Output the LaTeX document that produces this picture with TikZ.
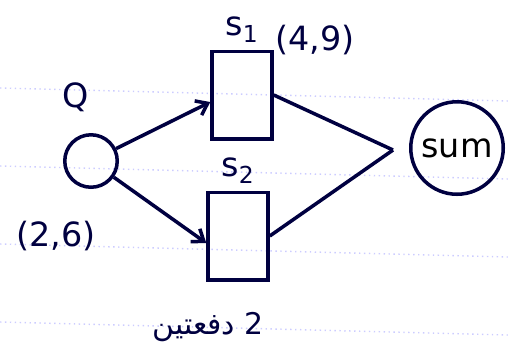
\documentclass[tikz,border=0pt]{standalone}
\usepackage{fontspec}
\setmainfont{DejaVu Sans}
\newfontfamily\arabicfont[Script=Arabic]{DejaVu Sans}
\TeXXeTstate=1
\usetikzlibrary{arrows.meta,positioning}

\begin{document}
\begin{tikzpicture}[x=0.02cm, y=-0.02cm, node distance=0.1cm, font=\fontsize{19}{22}\selectfont, ink/.style={draw=blue!25!black, line width=2pt}, server/.style={ink, minimum width=1.2cm, minimum height=1.75cm, inner sep=0pt}, queue/.style={ink, circle, minimum size=1.05cm, inner sep=0pt}, summer/.style={ink, circle, minimum size=1.85cm, inner sep=0pt}, lbl/.style={text=blue!25!black, inner sep=1pt}, arr/.style={-{Straight Barb[length=6pt, width=9pt]}, ink}, ruled/.style={blue!20, dotted, line width=0.8pt}]
\useasboundingbox (0,0) rectangle (509,360);
\foreach \y in {88,166,244,322} \draw[ruled] (0,\y) -- (509,\y+13);
\node[queue] (q) at (91,161) {};
\node[server] (s1) at (242,95) {};
\node[server] (s2) at (238,236) {};
\node[summer] (sum) at (457,148) {sum};
\coordinate (join) at (393,150);
\node[lbl] (qlabel) at (76,97) {Q};
\node[lbl] (qrate) at (56,236) {(2,6)};
\node[lbl, above=of s1] (s1label) {s\textsubscript{1}};
\node[lbl, above=of s2] (s2label) {s\textsubscript{2}};
\node[lbl] (s1rate) at (315,40) {(4,9)};
\node[lbl, font=\fontsize{17}{20}\selectfont] (note) at (208,327) {\arabicfont\beginR 2 دفعتين\endR};
\draw[arr] (q) -- ([yshift=-4pt]s1.west);
\draw[arr] (q) -- ([yshift=-4pt]s2.west);
\draw[ink] (s1.east) -- (join);
\draw[ink] (s2.east) -- (join);
\end{tikzpicture}
\end{document}
